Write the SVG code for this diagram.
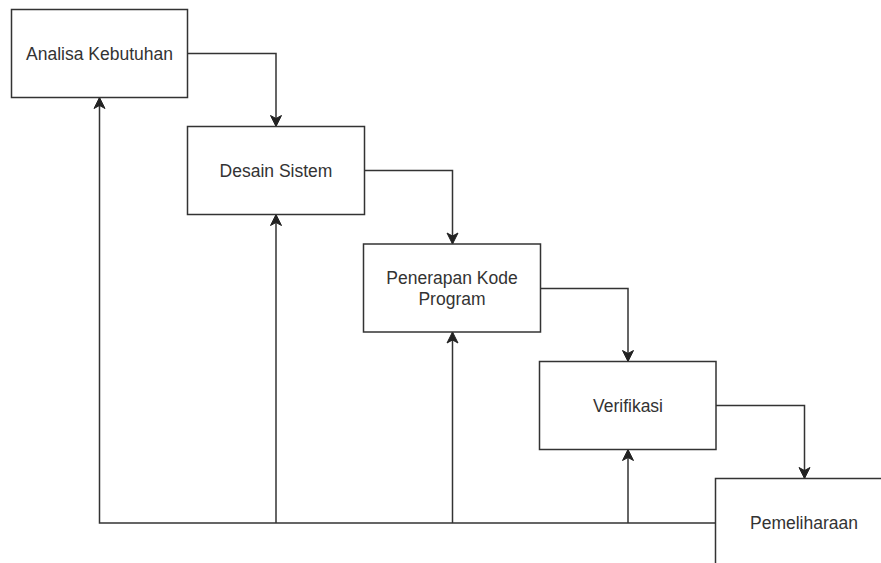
<svg xmlns="http://www.w3.org/2000/svg" width="881" height="563" viewBox="0 0 881 563">
<defs>
<style>
.box{fill:#fff;stroke:#333;stroke-width:1.5}
.lbl{font-family:"Liberation Sans",Arial,sans-serif;font-size:17.5px;fill:#333;text-anchor:middle;dominant-baseline:central}
.edge{fill:none;stroke:#333;stroke-width:1.5}
</style>
<marker id="arr" markerUnits="userSpaceOnUse" markerWidth="14" markerHeight="14" viewBox="-12 -7 14 14" refX="0" refY="0" orient="auto">
<path d="M0,0 L-11,-5.5 L-8,0 L-11,5.5 Z" fill="#222" stroke="#222" stroke-width="1"/>
</marker>
</defs>
<rect width="881" height="563" fill="#fff"/>
<g id="connectors">
<path class="edge" d="M187.5,53.5 H276 V126.5" marker-end="url(#arr)"/>
<path class="edge" d="M364.5,170.5 H452.5 V244" marker-end="url(#arr)"/>
<path class="edge" d="M540.5,288.5 H628 V361.5" marker-end="url(#arr)"/>
<path class="edge" d="M716,405.5 H804.5 V478.5" marker-end="url(#arr)"/>
<path class="edge" d="M715.5,523 H99.5 V97.5" marker-end="url(#arr)"/>
<path class="edge" d="M276,523 V214.5" marker-end="url(#arr)"/>
<path class="edge" d="M452.5,523 V332" marker-end="url(#arr)"/>
<path class="edge" d="M628,523 V449.5" marker-end="url(#arr)"/>
</g>
<g id="analisa">
<rect class="box" x="11.5" y="9.5" width="176" height="88"/>
<text class="lbl" x="99.5" y="53.5">Analisa Kebutuhan</text>
</g>
<g id="desain">
<rect class="box" x="187.5" y="126.5" width="177" height="88"/>
<text class="lbl" x="276" y="170.5">Desain Sistem</text>
</g>
<g id="penerapan">
<rect class="box" x="363.5" y="244" width="177" height="88"/>
<text class="lbl" x="452" y="277.5">Penerapan Kode</text>
<text class="lbl" x="452" y="299">Program</text>
</g>
<g id="verifikasi">
<rect class="box" x="539.5" y="361.5" width="176.5" height="88"/>
<text class="lbl" x="628" y="405.5">Verifikasi</text>
</g>
<g id="pemeliharaan">
<rect class="box" x="715.5" y="478.5" width="177" height="88"/>
<text class="lbl" x="804" y="522.5">Pemeliharaan</text>
</g>
</svg>
